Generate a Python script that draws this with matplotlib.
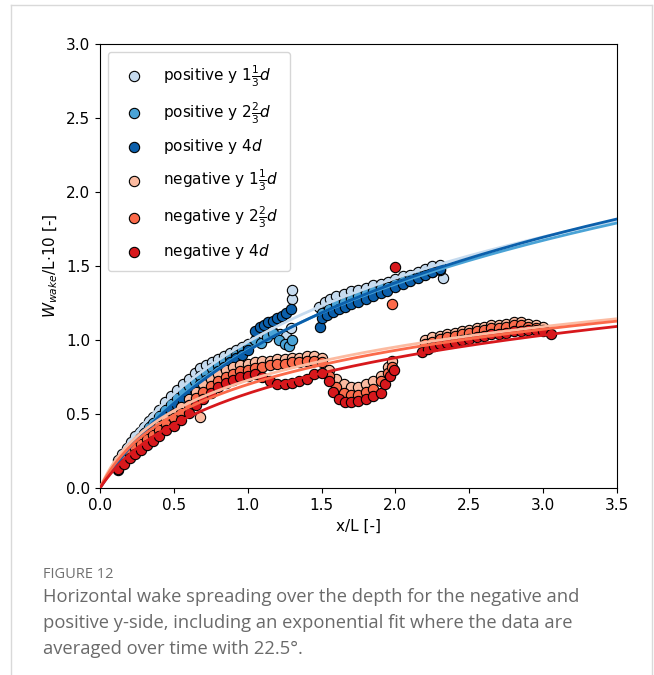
import numpy as np
import matplotlib.pyplot as plt
from matplotlib.lines import Line2D

# wake width data (x/L, W_wake/L*10)
pos1_x = [0.12, 0.15, 0.18, 0.21, 0.24, 0.27, 0.30, 0.33, 0.36, 0.40, 0.44, 0.48, 0.52, 0.56, 0.60,
          0.64, 0.68, 0.72, 0.76, 0.80, 0.84, 0.88, 0.92, 0.96, 1.00,
          1.06, 1.10, 1.14, 1.18, 1.22, 1.26, 1.29, 1.30, 1.30,
          1.48, 1.52, 1.56, 1.60, 1.65, 1.70, 1.75, 1.80, 1.85, 1.90, 1.95, 2.00, 2.05, 2.10, 2.15,
          2.20, 2.25, 2.30, 2.32]
pos1_y = [0.19, 0.23, 0.27, 0.31, 0.35, 0.38, 0.41, 0.45, 0.48, 0.53, 0.58, 0.62, 0.66, 0.70, 0.74,
          0.78, 0.81, 0.83, 0.85, 0.87, 0.89, 0.91, 0.93, 0.95, 0.97,
          1.02, 1.03, 1.04, 1.05, 1.04, 1.03, 1.08, 1.28, 1.34,
          1.22, 1.26, 1.28, 1.30, 1.31, 1.33, 1.34, 1.35, 1.37, 1.38, 1.39, 1.41, 1.43, 1.44, 1.46,
          1.48, 1.50, 1.51, 1.42]

pos2_x = [0.12, 0.15, 0.18, 0.21, 0.24, 0.27, 0.30, 0.33, 0.36, 0.40, 0.44, 0.48, 0.52, 0.56, 0.60,
          0.64, 0.68, 0.72, 0.76, 0.80, 0.84, 0.88, 0.92, 0.96, 1.00,
          1.05, 1.09, 1.13, 1.17, 1.21, 1.25, 1.28, 1.30,
          1.50, 1.55, 1.60, 1.65, 1.70, 1.75, 1.80, 1.85, 1.90, 1.95, 2.00, 2.05, 2.10, 2.15, 2.20,
          2.25, 2.30]
pos2_y = [0.15, 0.20, 0.24, 0.28, 0.31, 0.34, 0.37, 0.41, 0.44, 0.49, 0.53, 0.57, 0.61, 0.65, 0.69,
          0.72, 0.76, 0.78, 0.81, 0.83, 0.86, 0.88, 0.90, 0.93, 0.95,
          1.00, 0.98, 1.02, 1.05, 1.00, 0.97, 0.96, 1.00,
          1.18, 1.21, 1.24, 1.26, 1.28, 1.30, 1.32, 1.33, 1.35, 1.36, 1.38, 1.40, 1.42, 1.43, 1.45,
          1.46, 1.47]

pos3_x = [0.12, 0.15, 0.18, 0.21, 0.24, 0.27, 0.30, 0.33, 0.36, 0.40, 0.44, 0.48, 0.52, 0.56, 0.60,
          0.64, 0.68, 0.72, 0.76, 0.80, 0.84, 0.88, 0.92, 0.96, 1.00,
          1.05, 1.08, 1.11, 1.14, 1.17, 1.20, 1.23, 1.26, 1.29,
          1.49, 1.50, 1.54, 1.58, 1.62, 1.66, 1.70, 1.75, 1.80, 1.85, 1.90, 1.94, 2.00, 2.05, 2.10,
          2.15, 2.20, 2.25, 2.30]
pos3_y = [0.12, 0.17, 0.21, 0.25, 0.28, 0.31, 0.34, 0.37, 0.40, 0.44, 0.48, 0.52, 0.56, 0.59, 0.63,
          0.66, 0.70, 0.73, 0.76, 0.79, 0.82, 0.85, 0.88, 0.90, 0.93,
          1.06, 1.09, 1.10, 1.12, 1.13, 1.15, 1.16, 1.18, 1.21,
          1.09, 1.15, 1.17, 1.19, 1.21, 1.22, 1.24, 1.26, 1.28, 1.30, 1.32, 1.33, 1.36, 1.38, 1.40,
          1.42, 1.44, 1.46, 1.48]

neg1_x = [0.12, 0.16, 0.20, 0.24, 0.28, 0.32, 0.36, 0.40, 0.45, 0.50, 0.55, 0.60, 0.65, 0.70, 0.75,
          0.80, 0.85, 0.90, 0.95, 1.00, 1.05, 1.10, 1.15, 1.20, 1.25, 1.30, 1.35, 1.40, 1.45, 1.50,
          0.68,
          1.55, 1.60, 1.65, 1.70, 1.75, 1.80, 1.85, 1.90, 1.95, 1.98,
          2.20, 2.25, 2.30, 2.35, 2.40, 2.45, 2.50, 2.55, 2.60, 2.65, 2.70, 2.75, 2.80, 2.85, 2.90,
          2.95, 3.00]
neg1_y = [0.17, 0.21, 0.25, 0.29, 0.32, 0.35, 0.38, 0.42, 0.46, 0.50, 0.55, 0.60, 0.65, 0.70, 0.74,
          0.77, 0.80, 0.82, 0.83, 0.84, 0.85, 0.86, 0.86, 0.87, 0.87, 0.88, 0.88, 0.89, 0.89, 0.88,
          0.48,
          0.80, 0.74, 0.70, 0.68, 0.68, 0.70, 0.72, 0.76, 0.82, 0.86,
          1.00, 1.02, 1.03, 1.04, 1.05, 1.06, 1.07, 1.08, 1.09, 1.10, 1.10, 1.11, 1.12, 1.12, 1.11,
          1.10, 1.09]

neg2_x = [0.12, 0.16, 0.20, 0.24, 0.28, 0.32, 0.36, 0.40, 0.45, 0.50, 0.55, 0.60, 0.65, 0.70, 0.75,
          0.80, 0.85, 0.90, 0.95, 1.00, 1.05, 1.10, 1.15, 1.20, 1.25, 1.30, 1.35, 1.40, 1.45, 1.50,
          1.55, 1.60, 1.65, 1.70, 1.75, 1.80, 1.85, 1.90, 1.95, 1.98, 1.98,
          2.20, 2.25, 2.30, 2.35, 2.40, 2.45, 2.50, 2.55, 2.60, 2.65, 2.70, 2.75, 2.80, 2.85, 2.90,
          2.95, 3.00]
neg2_y = [0.15, 0.19, 0.23, 0.27, 0.30, 0.33, 0.36, 0.39, 0.43, 0.47, 0.51, 0.56, 0.61, 0.65, 0.69,
          0.72, 0.75, 0.77, 0.79, 0.80, 0.81, 0.82, 0.83, 0.84, 0.84, 0.85, 0.85, 0.86, 0.86, 0.85,
          0.76, 0.68, 0.64, 0.63, 0.63, 0.65, 0.67, 0.72, 0.78, 0.82, 1.24,
          0.97, 0.99, 1.01, 1.02, 1.03, 1.04, 1.05, 1.06, 1.07, 1.08, 1.08, 1.09, 1.10, 1.10, 1.09,
          1.08, 1.07]

neg3_x = [0.12, 0.16, 0.20, 0.24, 0.28, 0.32, 0.36, 0.40, 0.45, 0.50, 0.55, 0.60, 0.65, 0.70, 0.75,
          0.80, 0.85, 0.90, 0.95, 1.00, 1.05, 1.10, 1.15, 1.20, 1.25, 1.30, 1.35, 1.40, 1.45, 1.50,
          1.55, 1.58, 1.62, 1.66, 1.70, 1.75, 1.80, 1.85, 1.90, 1.93, 1.96, 1.99, 2.00,
          2.18, 2.22, 2.26, 2.30, 2.35, 2.40, 2.45, 2.50, 2.55, 2.60, 2.65, 2.70, 2.75, 2.80, 2.85,
          2.90, 2.95, 3.00, 3.05]
neg3_y = [0.13, 0.16, 0.20, 0.23, 0.26, 0.29, 0.32, 0.35, 0.39, 0.42, 0.46, 0.51, 0.56, 0.60, 0.64,
          0.68, 0.71, 0.73, 0.75, 0.76, 0.77, 0.75, 0.72, 0.70, 0.70, 0.71, 0.72, 0.74, 0.77, 0.78,
          0.72, 0.65, 0.60, 0.58, 0.58, 0.59, 0.60, 0.62, 0.64, 0.70, 0.76, 0.80, 1.49,
          0.92, 0.94, 0.96, 0.97, 0.98, 0.99, 1.00, 1.01, 1.02, 1.03, 1.04, 1.04, 1.05, 1.06, 1.06,
          1.07, 1.07, 1.06, 1.04]

labels = [r"positive y $1\frac{1}{3}d$", r"positive y $2\frac{2}{3}d$", r"positive y $4d$",
          r"negative y $1\frac{1}{3}d$", r"negative y $2\frac{2}{3}d$", r"negative y $4d$"]
colors = ["#c6dbef", "#4aa3d6", "#0b5fab", "#fcbba1", "#fb6a4a", "#d7181c"]
series = [(pos1_x, pos1_y), (pos2_x, pos2_y), (pos3_x, pos3_y),
          (neg1_x, neg1_y), (neg2_x, neg2_y), (neg3_x, neg3_y)]


def log_fit(x, y):
    # least squares y = a*ln(1 + b*x), a solved in closed form for each b
    x = np.asarray(x)
    y = np.asarray(y)
    best = None
    for b in np.linspace(0.1, 20.0, 1991):
        g = np.log1p(b * x)
        a = (g * y).sum() / (g * g).sum()
        err = ((a * g - y) ** 2).sum()
        if best is None or err < best[0]:
            best = (err, a, b)
    return best[1], best[2]


fig = plt.figure(figsize=(6.54, 6.75), dpi=100, facecolor="white")
ax = fig.add_axes([0.1529, 0.2770, 0.7905, 0.6578])

for (x, y), c, lab in zip(series, colors, labels):
    ax.scatter(x, y, s=55, c=c, edgecolors="black", linewidths=0.8, label=lab, zorder=2)

xf = np.linspace(0, 3.5, 300)
for (x, y), c in zip(series, colors):
    a, b = log_fit(x, y)
    ax.plot(xf, a * np.log1p(b * xf), color=c, lw=2, zorder=3)

ax.set_xlim(0, 3.5)
ax.set_ylim(0, 3.0)
ax.set_xticks(np.arange(0, 3.51, 0.5))
ax.set_yticks(np.arange(0, 3.01, 0.5))
ax.tick_params(labelsize=11)
ax.set_xlabel("x/L [-]", fontsize=11)
ax.set_ylabel(r"$W_{wake}$/L$\cdot$10 [-]", fontsize=11)
ax.legend(loc="upper left", fontsize=11, labelspacing=0.75, handletextpad=0.9,
          borderpad=0.7, borderaxespad=0.55)

# journal panel frame and caption
frame = "#d9d9d9"
fig.add_artist(Line2D([11 / 654, 11 / 654], [0, 1 - 5 / 675], color=frame, lw=1))
fig.add_artist(Line2D([11 / 654, 652 / 654], [1 - 5 / 675, 1 - 5 / 675], color=frame, lw=1))
fig.add_artist(Line2D([652 / 654, 652 / 654], [0, 1 - 5 / 675], color=frame, lw=1))

cap = ["Open Sans", "DejaVu Sans"]
fig.text(43 / 654, 1 - 575 / 675, "FIGURE 12", family=cap, fontsize=10.5, color="#707070",
         va="center")
fig.text(43 / 654, 1 - 588 / 675,
         "Horizontal wake spreading over the depth for the negative and\n"
         "positive y-side, including an exponential fit where the data are\n"
         "averaged over time with 22.5\u00b0.",
         family=cap, fontsize=13.2, color="#6a6a6a", va="top", linespacing=1.58)

fig.savefig("out.png", dpi=100, facecolor="white")
